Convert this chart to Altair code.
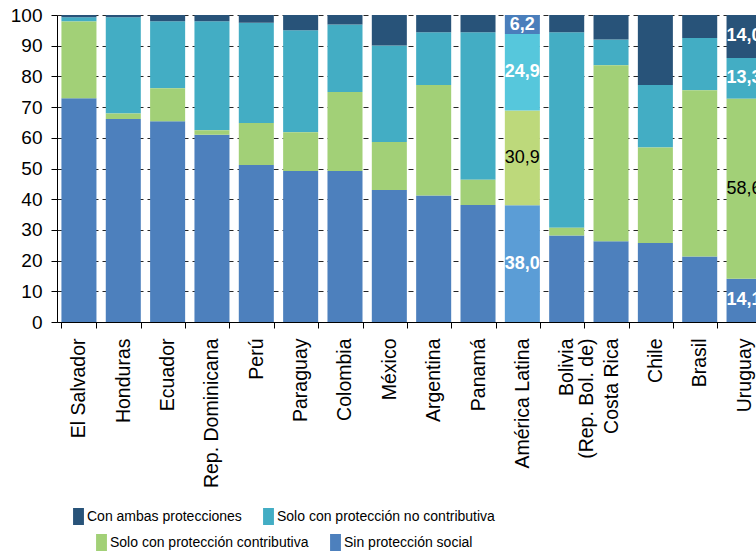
import altair as alt
import pandas as pd

countries = ["El Salvador", "Honduras", "Ecuador", "Rep. Dominicana", "Perú", "Paraguay",
             "Colombia", "México", "Argentina", "Panamá", "América Latina",
             "Bolivia\n(Rep. Bol. de)", "Costa Rica", "Chile", "Brasil", "Uruguay"]

series = ["Sin protección social", "Solo con protección contributiva",
          "Solo con protección no contributiva", "Con ambas protecciones"]

sin_proteccion = [72.9, 66.1, 65.4, 61.0, 51.1, 49.2, 49.2, 43.0, 41.2, 38.1, 38.0, 28.2, 26.3, 25.7, 21.3, 14.1]
solo_contrib = [25.0, 1.8, 10.7, 1.5, 13.7, 12.6, 25.7, 15.6, 36.0, 8.2, 30.9, 2.5, 57.3, 31.1, 54.2, 58.6]
solo_no_contrib = [1.4, 31.4, 21.9, 35.5, 32.7, 33.2, 22.0, 31.5, 17.2, 48.1, 24.9, 63.7, 8.4, 20.4, 17.0, 13.3]
ambas = [0.7, 0.7, 2.0, 2.0, 2.5, 5.0, 3.1, 9.9, 5.6, 5.6, 6.2, 5.6, 8.0, 22.8, 7.5, 14.0]

y_ticks = [0, 10, 20, 30, 40, 50, 60, 70, 80, 90, 100]

labeled = ["América Latina", "Uruguay"]
highlight = "América Latina"

rows = []
for i, c in enumerate(countries):
    for k, (s, vals) in enumerate(zip(series, [sin_proteccion, solo_contrib, solo_no_contrib, ambas])):
        rows.append({"country": c, "serie": s, "value": vals[i], "order": k})
df = pd.DataFrame(rows)

FONT = "Liberation Sans"

c_navy, c_teal, c_green, c_blue = "#285379", "#43ADC4", "#A2D077", "#4D80BD"
al_colors = ["#5B9DD6", "#BDD97B", "#56C7DC", "#4A7EBB"]  # sin, contrib, no contrib, ambas

swatch = "M-0.64,-1H0.64V1H-0.64Z"

base = alt.Chart(df).transform_stack(
    stack="value", groupby=["country"], sort=[alt.SortField("order", order="ascending")], as_=["y0", "y1"]
)

x_axis = alt.Axis(labelAngle=270, labelFontSize=19.5, labelFont=FONT, labelColor="black",
                  tickBand="extent", tickSize=6, tickColor="black", domainColor="black",
                  labelPadding=10, labelLineHeight=20,
                  labelExpr="split(datum.label, '\\n')")
x_scale = alt.Scale(paddingInner=0.21, paddingOuter=0.1)
y_axis = alt.Axis(values=y_ticks, labelFontSize=19, labelFont=FONT, tickCount=11,
                  labelColor="black", tickSize=6, tickColor="black", domainColor="black",
                  labelPadding=9, labelOverlap=False, grid=True, gridColor="black",
                  gridDash=[5, 4], gridOpacity=0.85)
y_scale = alt.Scale(domain=[0, 100], nice=False)

x_enc = alt.X("country:N", sort=countries, title=None, scale=x_scale, axis=x_axis)
y_enc = alt.Y("y0:Q", title=None, scale=y_scale, axis=y_axis)
y_mid = alt.Y("mid:Q", title=None, scale=y_scale, axis=y_axis)

def legend(x, y):
    return alt.Legend(orient="none", legendX=x, legendY=y, direction="horizontal", title=None,
                      symbolType=swatch, symbolSize=289, symbolStrokeWidth=0,
                      labelFontSize=14, labelFont=FONT, labelColor="black", labelLimit=400,
                      labelOffset=0, columnPadding=18, padding=0)

top_layer = base.transform_filter(
    (alt.datum.country != highlight) & (alt.datum.order >= 2)
).mark_bar().encode(
    x=x_enc, y=y_enc, y2="y1:Q",
    color=alt.Color("serie:N", scale=alt.Scale(domain=[series[3], series[2]], range=[c_navy, c_teal]),
                    legend=legend(13, 493)),
)

bottom_layer = base.transform_filter(
    (alt.datum.country != highlight) & (alt.datum.order < 2)
).mark_bar().encode(
    x=x_enc, y=y_enc, y2="y1:Q",
    color=alt.Color("serie:N", scale=alt.Scale(domain=[series[1], series[0]], range=[c_green, c_blue]),
                    legend=legend(36, 519)),
)

hl_layer = base.transform_filter(alt.datum.country == highlight).mark_bar().encode(
    x=x_enc, y=y_enc, y2="y1:Q",
    color=alt.Color("serie:N", scale=alt.Scale(domain=series, range=al_colors), legend=None),
)

lab_base = base.transform_filter(
    alt.FieldOneOfPredicate(field="country", oneOf=labeled)
).transform_calculate(
    mid="(datum.y0 + datum.y1) / 2",
    txt="replace(format(datum.value, '.1f'), '.', ',')",
)

labels_white = lab_base.transform_filter(alt.datum.order != 1).mark_text(
    font=FONT, fontSize=18, fontWeight="bold", color="white"
).encode(x=x_enc, y=y_mid, text="txt:N")

labels_black = lab_base.transform_filter(alt.datum.order == 1).mark_text(
    font=FONT, fontSize=18, color="black"
).encode(x=x_enc, y=y_mid, text="txt:N")

chart = alt.layer(top_layer, bottom_layer, hl_layer, labels_white, labels_black).resolve_scale(
    color="independent"
).properties(
    width=709, height=307,
    autosize=alt.AutoSizeParams(type="none"),
    padding={"left": 57, "top": 15, "right": -10, "bottom": 231},
).configure_view(strokeWidth=0)

chart.save("out.html", embed_options={"renderer": "svg", "actions": False})
